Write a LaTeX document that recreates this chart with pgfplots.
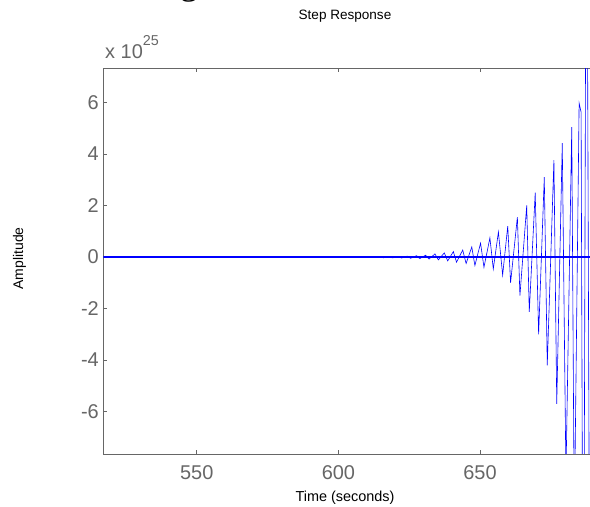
\documentclass[border=0pt]{standalone}
\usepackage{pgfplots}
\pgfplotsset{compat=1.18}
\usepackage{fontspec}
\setmainfont{Liberation Sans}
\newfontfamily\seriffont{Liberation Serif}
\definecolor{axgray}{RGB}{102,102,102}
\begin{document}
\begin{tikzpicture}[x=1bp,y=1bp]
\useasboundingbox (0,0) rectangle (590,507);
\begin{axis}[
  at={(103.3bp,53bp)}, anchor=south west,
  width=487.7bp, height=385.7bp, scale only axis,
  xmin=517.0, xmax=689.2, ymin=-7.64, ymax=7.32,
  xtick={550,600,650}, ytick={-6,-4,-2,0,2,4,6},
  axis y line*=left,
  tick align=inside, major tick length=4bp,
  axis line style={axgray, line width=0.8bp, -},
  every tick/.style={axgray, line width=0.6bp},
  tick label style={font=\fontsize{20}{24}\selectfont, text=axgray},
  /pgf/number format/assume math mode=true,
  xticklabel style={anchor=north, inner sep=0pt, yshift=-11bp},
  yticklabel style={anchor=east, inner sep=0pt, xshift=-4.3bp},
]
\addplot[blue, line width=0.6bp] coordinates {
(597.0,0) (598.5,0.005) (599.7,-0.01) (601.6,0.006) (602.8,-0.012)
(604.8,0.008) (606.0,-0.015) (608.2,0.01) (609.4,-0.02)
(611.4,0.012) (612.6,-0.025) (614.7,0.015) (615.9,-0.03)
(617.9,0.02) (619.1,-0.035) (621.1,0.025) (622.3,-0.04)
(624.3,0.035) (625.5,-0.05) (627.6,0.05) (628.75,-0.06)
(630.8,0.07) (632.0,-0.08) (634.1,0.12) (635.3,-0.11)
(637.4,0.16) (638.6,-0.15) (640.6,0.21) (641.7,-0.2)
(643.9,0.27) (645.1,-0.25) (647.1,0.39) (648.2,-0.33)
(650.2,0.54) (651.4,-0.4) (653.5,0.74) (654.7,-0.46)
(656.5,0.97) (658.0,-0.7) (659.8,1.2) (660.8,-1.0)
(663.2,1.55) (664.1,-1.5) (666.5,2.0) (667.4,-2.13)
(669.5,2.5) (670.7,-3.0) (672.7,3.1) (673.75,-4.2)
(676.1,3.76) (677.1,-5.7) (679.05,4.42) (680.35,-8.5)
(682.4,5.04) (683.3,-10.5) (685.0,5.97) (685.7,5.62)
(686.5,-20) (687.6,20) (688.9,-20) (690.0,22)
};
\addplot[blue, line width=2.5bp] coordinates {(517.0,0) (689.2,0)};
\end{axis}
\node[anchor=base, font=\fontsize{13.6}{16}\selectfont] at (345,487.3) {Step Response};
\node[anchor=base, font=\fontsize{14.5}{17}\selectfont] at (345,5) {Time (seconds)};
\node[anchor=base, rotate=90, font=\fontsize{14}{17}\selectfont] at (23,248.7) {Amplitude};
\node[anchor=base west, inner sep=0pt, text=axgray] at (105,448.7) {\fontsize{20}{24}\selectfont x 10\raisebox{13bp}{\fontsize{14.4}{17}\selectfont 25}};
\node[anchor=base west, inner sep=0pt] at (180,512.5) {\seriffont\fontsize{36}{40}\selectfont g};
\end{tikzpicture}
\end{document}
